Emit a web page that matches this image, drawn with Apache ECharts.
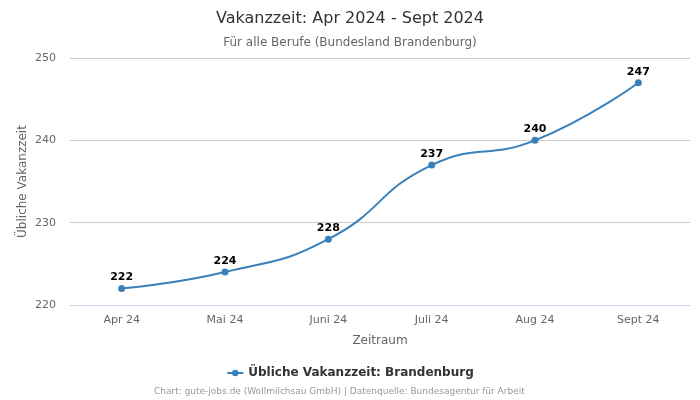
<!DOCTYPE html>
<html>
<head>
<meta charset="utf-8">
<script src="https://cdn.jsdelivr.net/npm/echarts@6/dist/echarts.min.js"></script>
<style>html,body{margin:0;padding:0;background:#fff}#c{width:700px;height:400px}</style>
</head>
<body>
<div id="c"></div>
<script>
const categories = ['Apr 24', 'Mai 24', 'Juni 24', 'Juli 24', 'Aug 24', 'Sept 24'];
const values = [222, 224, 228, 237, 240, 247];
const seriesName = 'Übliche Vakanzzeit: Brandenburg';
const F = 'DejaVu Sans';

const chart = echarts.init(document.getElementById('c'));
chart.setOption({
  backgroundColor: '#fff',
  title: [
    { text: 'Vakanzzeit: Apr 2024 - Sept 2024', left: 'center', top: 6,
      textStyle: { fontFamily: F, fontSize: 16, fontWeight: 'normal', color: '#333' } },
    { text: 'Für alle Berufe (Bundesland Brandenburg)', left: 'center', top: 32,
      textStyle: { fontFamily: F, fontSize: 12, fontWeight: 'normal', color: '#666' } },
    { text: 'Chart: gute-jobs.de (Wollmilchsau GmbH) | Datenquelle: Bundesagentur für Arbeit', left: 149, top: 382,
      textStyle: { fontFamily: F, fontSize: 9, fontWeight: 'normal', color: '#999' } }
  ],
  legend: {
    data: [seriesName], top: 362, left: 'center',
    itemWidth: 16, itemHeight: 8, itemGap: 5,
    textStyle: { fontFamily: F, fontSize: 12, fontWeight: 'bold', color: '#333' }
  },
  grid: { left: 70, right: 10, top: 58, bottom: 95 },
  xAxis: {
    type: 'category', data: categories, boundaryGap: true,
    name: 'Zeitraum', nameLocation: 'middle', nameGap: 30,
    nameTextStyle: { fontFamily: F, fontSize: 12, color: '#666' },
    axisLine: { lineStyle: { color: '#ccd6eb' } },
    axisTick: { show: false },
    axisLabel: { fontFamily: F, fontSize: 11, color: '#666', margin: 10 }
  },
  yAxis: {
    type: 'value', min: 220, max: 250, interval: 10,
    name: 'Übliche Vakanzzeit', nameLocation: 'middle', nameGap: 41, nameMoveOverlap: false,
    nameTextStyle: { fontFamily: F, fontSize: 12, color: '#666' },
    axisLine: { show: false }, axisTick: { show: false },
    axisLabel: { fontFamily: F, fontSize: 11, color: '#666', margin: 14 },
    splitLine: { lineStyle: { color: '#ccc' } }
  },
  series: [{
    name: seriesName, type: 'line', data: values, smooth: true,
    symbol: 'circle', symbolSize: 7,
    itemStyle: { color: '#3a80ba' },
    lineStyle: { color: '#3a80ba', width: 2 },
    label: { show: true, position: 'top', distance: 2, fontFamily: F, fontSize: 11, fontWeight: 'bold', color: '#000' }
  }]
});
</script>
</body>
</html>
